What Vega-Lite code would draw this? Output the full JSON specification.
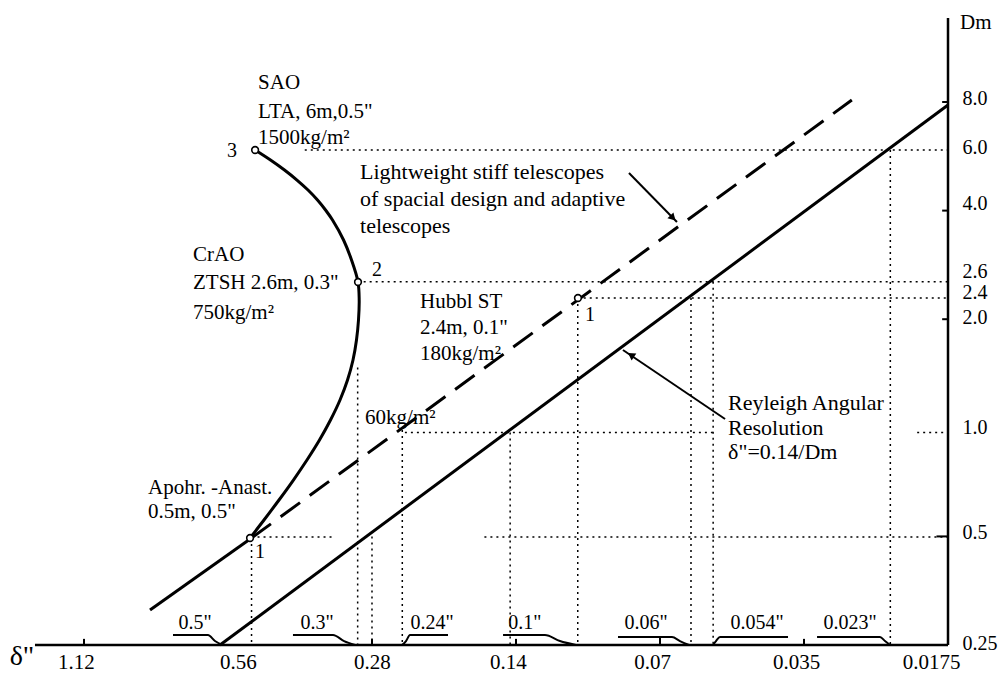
{
  "$schema": "https://vega.github.io/schema/vega-lite/v6.json",
  "width": 1003,
  "height": 673,
  "padding": 0,
  "autosize": {"type": "none"},
  "background": "white",
  "config": {"view": {"stroke": null}, "font": "Liberation Serif"},
  "encoding": {
    "x": {
      "field": "x", "type": "quantitative",
      "scale": {"type": "log", "domain": [0.01343, 1.678], "reverse": true, "nice": false},
      "axis": {"orient": "bottom", "offset": -22, "values": [1.12, 0.56, 0.28, 0.14, 0.07, 0.035, 0.0175],
        "labelExpr": "format(datum.value, '.4~f')", "domain": false, "ticks": false, "grid": false,
        "labelPadding": 0, "labelFontSize": 21, "labelFont": "Liberation Serif", "labelColor": "black",
        "labelOverlap": false, "labelFlush": false, "labelBound": false, "labelBaseline": "top", "title": null,
        "labelOffset": {"condition": [
          {"test": "datum.value == 0.0175", "value": -17},
          {"test": "datum.value == 0.56", "value": 10},
          {"test": "datum.value == 0.28", "value": 0}
        ], "value": -8}}
    },
    "y": {
      "field": "y", "type": "quantitative",
      "scale": {"type": "log", "domain": [0.2091, 15.34], "nice": false},
      "axis": {"orient": "right", "offset": -55, "values": [0.25, 0.5, 1, 2, 2.4, 2.6, 4, 6, 8],
        "labelExpr": "datum.value == 0.25 ? '0.25' : datum.value == 0.5 ? '0.5' : format(datum.value, '.1f')",
        "domain": false, "ticks": false, "grid": false, "labelPadding": 14, "labelFontSize": 20,
        "labelFont": "Liberation Serif", "labelColor": "black", "labelOverlap": false, "labelFlush": false,
        "labelBound": false, "labelAlign": "left", "labelBaseline": "middle", "title": null,
        "labelOffset": {"condition": [
          {"test": "datum.value == 2.6", "value": -7},
          {"test": "datum.value == 2.4", "value": 2},
          {"test": "datum.value == 2", "value": -2},
          {"test": "datum.value == 4", "value": -7},
          {"test": "datum.value == 8", "value": -4},
          {"test": "datum.value == 0.5", "value": -4},
          {"test": "datum.value == 0.25", "value": -2}
        ], "value": 0}}
    }
  },
  "layer": [
    {
      "data": {"values": [
        {"x": 0.387, "x2": 0.0175, "y": 5.89, "y2": 5.89},
        {"x": 0.30, "x2": 0.0175, "y": 2.54, "y2": 2.54},
        {"x": 0.104, "x2": 0.0175, "y": 2.29, "y2": 2.29},
        {"x": 0.239, "x2": 0.054, "y": 0.97, "y2": 0.97},
        {"x": 0.0203, "x2": 0.0175, "y": 0.97, "y2": 0.97},
        {"x": 0.50, "x2": 0.335, "y": 0.498, "y2": 0.498},
        {"x": 0.163, "x2": 0.0175, "y": 0.498, "y2": 0.498},
        {"x": 0.50, "x2": 0.50, "y": 0.495, "y2": 0.25},
        {"x": 0.30, "x2": 0.30, "y": 1.47, "y2": 0.25},
        {"x": 0.28, "x2": 0.28, "y": 0.50, "y2": 0.25},
        {"x": 0.242, "x2": 0.242, "y": 0.986, "y2": 0.25},
        {"x": 0.144, "x2": 0.144, "y": 0.97, "y2": 0.25},
        {"x": 0.104, "x2": 0.104, "y": 2.29, "y2": 0.25},
        {"x": 0.0603, "x2": 0.0603, "y": 2.29, "y2": 0.25},
        {"x": 0.0542, "x2": 0.0542, "y": 2.54, "y2": 0.25},
        {"x": 0.0231, "x2": 0.0231, "y": 5.89, "y2": 0.25}
      ]},
      "mark": {"type": "rule", "strokeDash": [2, 4], "strokeWidth": 1.5, "color": "black"},
      "encoding": {"x2": {"field": "x2"}, "y2": {"field": "y2"}}
    },
    {
      "data": {"values": [
        {"x": 1.418, "x2": 0.0175, "y": 0.25, "y2": 0.25},
        {"x": 0.0175, "x2": 0.0175, "y": 0.25, "y2": 13.68}
      ]},
      "mark": {"type": "rule", "strokeWidth": 2.5, "color": "black"},
      "encoding": {"x2": {"field": "x2"}, "y2": {"field": "y2"}}
    },
    {
      "data": {"values": [
        {"x": 1.12, "x2": 1.12, "y": 0.25, "y2": 0.26},
        {"x": 0.28, "x2": 0.28, "y": 0.25, "y2": 0.26},
        {"x": 0.14, "x2": 0.14, "y": 0.25, "y2": 0.26},
        {"x": 0.07, "x2": 0.07, "y": 0.25, "y2": 0.263},
        {"x": 0.035, "x2": 0.035, "y": 0.25, "y2": 0.26},
        {"x": 0.0175, "x2": 0.018, "y": 8, "y2": 8},
        {"x": 0.0175, "x2": 0.018, "y": 4, "y2": 4},
        {"x": 0.0175, "x2": 0.018, "y": 2, "y2": 2},
        {"x": 0.0175, "x2": 0.0185, "y": 0.5, "y2": 0.5}
      ]},
      "mark": {"type": "rule", "strokeWidth": 2, "color": "black"},
      "encoding": {"x2": {"field": "x2"}, "y2": {"field": "y2"}}
    },
    {
      "data": {"values": [
        {"id": "b1", "i": 1, "x": 0.7297, "y": 0.2664},
        {"id": "b1", "i": 2, "x": 0.6166, "y": 0.2664},
        {"id": "b1", "i": 3, "x": 0.5962, "y": 0.2564},
        {"id": "b1", "i": 4, "x": 0.5763, "y": 0.25},
        {"id": "b2", "i": 1, "x": 0.4096, "y": 0.2664},
        {"id": "b2", "i": 2, "x": 0.3378, "y": 0.2664},
        {"id": "b2", "i": 3, "x": 0.3203, "y": 0.2564},
        {"id": "b2", "i": 4, "x": 0.3038, "y": 0.25},
        {"id": "b3", "i": 1, "x": 0.2423, "y": 0.25},
        {"id": "b3", "i": 2, "x": 0.2377, "y": 0.2564},
        {"id": "b3", "i": 3, "x": 0.2332, "y": 0.2664},
        {"id": "b3", "i": 4, "x": 0.1942, "y": 0.2664},
        {"id": "b4", "i": 1, "x": 0.149, "y": 0.2664},
        {"id": "b4", "i": 2, "x": 0.1218, "y": 0.2664},
        {"id": "b4", "i": 3, "x": 0.1133, "y": 0.2564},
        {"id": "b4", "i": 4, "x": 0.1049, "y": 0.25},
        {"id": "b5", "i": 1, "x": 0.08569, "y": 0.263},
        {"id": "b5", "i": 2, "x": 0.06608, "y": 0.263},
        {"id": "b5", "i": 3, "x": 0.06359, "y": 0.2564},
        {"id": "b5", "i": 4, "x": 0.06089, "y": 0.25},
        {"id": "b6", "i": 1, "x": 0.05424, "y": 0.25},
        {"id": "b6", "i": 2, "x": 0.05346, "y": 0.2564},
        {"id": "b6", "i": 3, "x": 0.05244, "y": 0.263},
        {"id": "b6", "i": 4, "x": 0.0378, "y": 0.263},
        {"id": "b7", "i": 1, "x": 0.03287, "y": 0.263},
        {"id": "b7", "i": 2, "x": 0.02428, "y": 0.263},
        {"id": "b7", "i": 3, "x": 0.0237, "y": 0.2564},
        {"id": "b7", "i": 4, "x": 0.02313, "y": 0.25}
      ]},
      "mark": {"type": "line", "interpolate": "monotone", "strokeWidth": 2, "color": "black"},
      "encoding": {"detail": {"field": "id"}, "order": {"field": "i"}}
    },
    {
      "data": {"values": [
        {"id": "rayleigh", "i": 1, "x": 0.582, "y": 0.25},
        {"id": "rayleigh", "i": 2, "x": 0.0175, "y": 7.85},
        {"id": "ext", "i": 1, "x": 0.815, "y": 0.3126},
        {"id": "ext", "i": 2, "x": 0.50, "y": 0.495}
      ]},
      "mark": {"type": "line", "strokeWidth": 3, "color": "black"},
      "encoding": {"detail": {"field": "id"}, "order": {"field": "i"}}
    },
    {
      "data": {"values": [
        {"i": 1, "x": 0.5036, "y": 0.495},
        {"i": 2, "x": 0.4709, "y": 0.5552},
        {"i": 3, "x": 0.4381, "y": 0.6308},
        {"i": 4, "x": 0.4087, "y": 0.7166},
        {"i": 5, "x": 0.3829, "y": 0.8142},
        {"i": 6, "x": 0.3605, "y": 0.9251},
        {"i": 7, "x": 0.3419, "y": 1.051},
        {"i": 8, "x": 0.3266, "y": 1.1942},
        {"i": 9, "x": 0.315, "y": 1.3565},
        {"i": 10, "x": 0.3068, "y": 1.5413},
        {"i": 11, "x": 0.3017, "y": 1.752},
        {"i": 12, "x": 0.2988, "y": 1.99},
        {"i": 13, "x": 0.2978, "y": 2.261},
        {"i": 14, "x": 0.2995, "y": 2.536},
        {"i": 15, "x": 0.309, "y": 2.918},
        {"i": 16, "x": 0.3211, "y": 3.316},
        {"i": 17, "x": 0.3386, "y": 3.767},
        {"i": 18, "x": 0.3502, "y": 4.016},
        {"i": 19, "x": 0.364, "y": 4.28},
        {"i": 20, "x": 0.381, "y": 4.562},
        {"i": 21, "x": 0.4018, "y": 4.862},
        {"i": 22, "x": 0.4267, "y": 5.183},
        {"i": 23, "x": 0.4564, "y": 5.525},
        {"i": 24, "x": 0.4915, "y": 5.889}
      ]},
      "mark": {"type": "line", "interpolate": "catmull-rom", "strokeWidth": 3, "color": "black"},
      "encoding": {"order": {"field": "i"}}
    },
    {
      "data": {"values": [
        {"i": 1, "x": 0.50, "y": 0.495},
        {"i": 2, "x": 0.0278, "y": 8.10}
      ]},
      "mark": {"type": "line", "strokeWidth": 3, "strokeDash": [24, 12], "color": "black"},
      "encoding": {"order": {"field": "i"}}
    },
    {
      "data": {"values": [
        {"x": 0.08128, "x2": 0.06451, "y": 5.085, "y2": 3.719},
        {"x": 0.05118, "x2": 0.08366, "y": 1.0577, "y2": 1.6432}
      ]},
      "mark": {"type": "rule", "strokeWidth": 2, "color": "black"},
      "encoding": {"x2": {"field": "x2"}, "y2": {"field": "y2"}}
    },
    {
      "data": {"values": [{"x": 0.06576, "y": 3.815}]},
      "mark": {"type": "point", "shape": "triangle-right", "angle": 45.6, "size": 70, "filled": true, "color": "black", "opacity": 1}
    },
    {
      "data": {"values": [{"x": 0.0805, "y": 1.5916}]},
      "mark": {"type": "point", "shape": "triangle-right", "angle": 214, "size": 70, "filled": true, "color": "black", "opacity": 1}
    },
    {
      "data": {"values": [
        {"name": "SAO", "x": 0.4915, "y": 5.889},
        {"name": "CrAO", "x": 0.2995, "y": 2.536},
        {"name": "Hubble", "x": 0.1039, "y": 2.29},
        {"name": "Apohr", "x": 0.5036, "y": 0.495}
      ]},
      "mark": {"type": "point", "shape": "circle", "size": 45, "filled": true, "fill": "white", "stroke": "black", "strokeWidth": 1.6, "opacity": 1}
    },
    {
      "data": {"values": [
        {"x": 0.4845, "y": 9.03, "t": "SAO"},
        {"x": 0.4845, "y": 7.505, "t": "LTA, 6m,0.5\""},
        {"x": 0.4845, "y": 6.359, "t": "1500kg/m²"},
        {"x": 0.6628, "y": 3.013, "t": "CrAO"},
        {"x": 0.6628, "y": 2.52, "t": "ZTSH 2.6m, 0.3\""},
        {"x": 0.6628, "y": 2.081, "t": "750kg/m²"},
        {"x": 0.2222, "y": 2.232, "t": "Hubbl ST"},
        {"x": 0.2222, "y": 1.89, "t": "2.4m, 0.1\""},
        {"x": 0.2222, "y": 1.602, "t": "180kg/m²"},
        {"x": 0.823, "y": 0.681, "t": "Apohr. -Anast."},
        {"x": 0.823, "y": 0.5841, "t": "0.5m, 0.5\""},
        {"x": 0.2895, "y": 1.0645, "t": "60kg/m²"},
        {"x": 0.01651, "y": 13.25, "t": "Dm"}
      ]},
      "mark": {"type": "text", "align": "left", "baseline": "middle", "fontSize": 21, "font": "Liberation Serif", "color": "black"},
      "encoding": {"text": {"field": "t"}}
    },
    {
      "data": {"values": [
        {"x": 0.2966, "y": 5.118, "t": "Lightweight stiff telescopes"},
        {"x": 0.2966, "y": 4.308, "t": "of spacial design and adaptive"},
        {"x": 0.2966, "y": 3.626, "t": "telescopes"},
        {"x": 0.05045, "y": 1.1716, "t": "Reyleigh Angular"},
        {"x": 0.05045, "y": 0.9987, "t": "Resolution"},
        {"x": 0.05045, "y": 0.8568, "t": "δ\"=0.14/Dm"}
      ]},
      "mark": {"type": "text", "align": "left", "baseline": "middle", "fontSize": 22, "font": "Liberation Serif", "color": "black"},
      "encoding": {"text": {"field": "t"}}
    },
    {
      "data": {"values": [
        {"x": 0.6565, "y": 0.2876, "t": "0.5\""},
        {"x": 0.3649, "y": 0.2876, "t": "0.3\""},
        {"x": 0.2098, "y": 0.2876, "t": "0.24\""},
        {"x": 0.1341, "y": 0.2876, "t": "0.1\""},
        {"x": 0.07486, "y": 0.2876, "t": "0.06\""},
        {"x": 0.04388, "y": 0.2876, "t": "0.054\""},
        {"x": 0.02805, "y": 0.2876, "t": "0.023\""},
        {"x": 0.5493, "y": 5.852, "t": "3"},
        {"x": 0.2733, "y": 2.738, "t": "2"},
        {"x": 0.09805, "y": 2.054, "t": "1"},
        {"x": 0.48, "y": 0.4523, "t": "1"}
      ]},
      "mark": {"type": "text", "align": "center", "baseline": "middle", "fontSize": 20, "font": "Liberation Serif", "color": "black"},
      "encoding": {"text": {"field": "t"}}
    },
    {
      "data": {"values": [{"x": 1.5098, "y": 0.2314, "t": "δ\""}]},
      "mark": {"type": "text", "align": "center", "baseline": "middle", "fontSize": 28, "font": "Liberation Serif", "color": "black"},
      "encoding": {"text": {"field": "t"}}
    }
  ]
}
